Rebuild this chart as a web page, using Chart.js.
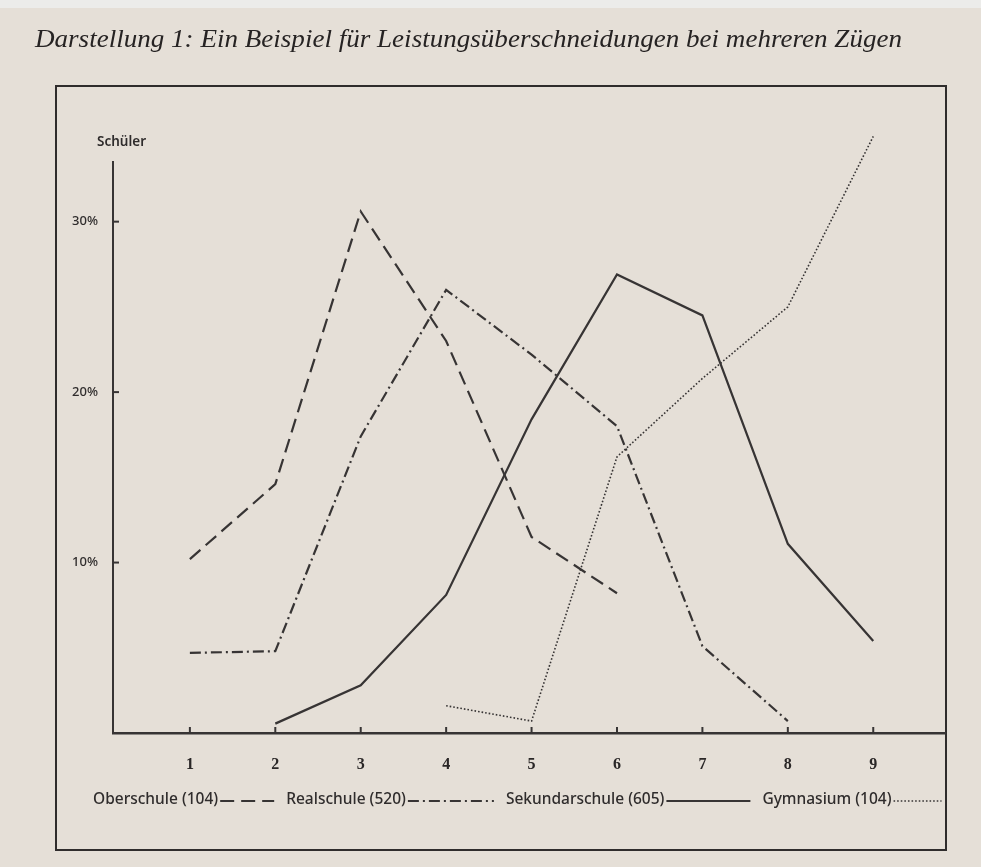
<!DOCTYPE html>
<html lang="de">
<head>
  <meta charset="UTF-8">
  <title>Darstellung 1</title>
  <script src="https://cdn.jsdelivr.net/npm/chart.js"></script>
  <style>
    html, body {
      margin: 0;
      padding: 0;
      background: linear-gradient(to bottom, #ececea 0, #ececea 8px, #e5dfd7 8px);
      overflow: hidden;
    }
    canvas {
      display: block;
    }
  </style>
</head>
<body>
  <canvas id="chart" width="981" height="867"></canvas>

  <script>
    const titleText = 'Darstellung 1: Ein Beispiel für Leistungsüberschneidungen bei mehreren Zügen';
    const yTitle = 'Schüler';
    const xTicks = [1, 2, 3, 4, 5, 6, 7, 8, 9];
    const yTicks = [10, 20, 30];

    const seriesNames = ['Oberschule (104)', 'Realschule (520)', 'Sekundarschule (605)', 'Gymnasium (104)'];

    const oberX = [1, 2, 3, 4, 5, 6];
    const oberY = [10.2, 14.6, 30.6, 23, 11.5, 8.2];

    const realX = [1, 2, 3, 4, 5, 6, 7, 8];
    const realY = [4.7, 4.8, 17.4, 26, 22.2, 18, 5.1, 0.7];

    const sekX = [2, 3, 4, 5, 6, 7, 8, 9];
    const sekY = [0.55, 2.8, 8.1, 18.4, 26.9, 24.5, 11.1, 5.4];

    const gymX = [4, 5, 6, 7, 8, 9];
    const gymY = [1.6, 0.7, 16.2, 20.8, 25, 35];

    const ink = '#373434';
    const dashes = [[14, 7], [11, 4, 2, 4], [], [1.6, 2]];
    const widths = [2.2, 2.2, 2.2, 1.6];
    const legendLine = [54, 86, 84, 48];

    const toPoints = (xs, ys) => xs.map((x, i) => ({ x: x, y: ys[i] }));
    const allData = [toPoints(oberX, oberY), toPoints(realX, realY), toPoints(sekX, sekY), toPoints(gymX, gymY)];

    const decor = {
      id: 'decor',
      beforeDraw(chart) {
        const ctx = chart.ctx;
        ctx.save();
        // frame
        ctx.strokeStyle = '#2f2c2c';
        ctx.lineWidth = 2;
        ctx.strokeRect(56, 86, 890, 764);
        // title, squeezed to the printed width
        ctx.fillStyle = '#262323';
        ctx.font = 'italic 26px "Liberation Serif", serif';
        ctx.textBaseline = 'alphabetic';
        const w = ctx.measureText(titleText).width;
        ctx.translate(35, 47);
        ctx.scale(867 / w, 1);
        ctx.fillText(titleText, 0, 0);
        ctx.restore();

        ctx.save();
        ctx.fillStyle = '#2f2c2c';
        ctx.font = '600 13.5px "Noto Sans", sans-serif';
        ctx.textBaseline = 'middle';
        ctx.fillText(yTitle, 97, 142);
        ctx.restore();
      },
      afterDraw(chart) {
        const ctx = chart.ctx;
        const xs = chart.scales.x, ys = chart.scales.y;
        const area = chart.chartArea;
        ctx.save();
        ctx.strokeStyle = ink;
        ctx.lineWidth = 2;
        // inward tick marks
        yTicks.forEach(v => {
          const py = ys.getPixelForValue(v);
          ctx.beginPath();
          ctx.moveTo(area.left, py);
          ctx.lineTo(area.left + 6, py);
          ctx.stroke();
        });
        xTicks.forEach(v => {
          const px = xs.getPixelForValue(v);
          ctx.beginPath();
          ctx.moveTo(px, area.bottom);
          ctx.lineTo(px, area.bottom - 6);
          ctx.stroke();
        });

        // legend: text followed by line sample
        ctx.font = '500 15.5px "Noto Sans", sans-serif';
        ctx.fillStyle = '#2f2c2c';
        ctx.textBaseline = 'middle';
        let x = 93;
        const y = 800;
        chart.data.datasets.forEach((ds, i) => {
          ctx.fillText(ds.label, x, y);
          x += ctx.measureText(ds.label).width + 2;
          ctx.beginPath();
          ctx.setLineDash(dashes[i]);
          ctx.lineWidth = widths[i];
          ctx.moveTo(x, y + 1);
          ctx.lineTo(x + legendLine[i], y + 1);
          ctx.stroke();
          ctx.setLineDash([]);
          x += legendLine[i] + 12;
        });
        ctx.restore();
      }
    };

    const ctx = document.getElementById('chart').getContext('2d');
    new Chart(ctx, {
      type: 'line',
      data: {
        datasets: seriesNames.map((name, i) => ({
          label: name,
          data: allData[i],
          borderColor: ink,
          borderWidth: widths[i],
          borderDash: dashes[i],
          pointRadius: 0,
          tension: 0,
          fill: false,
          clip: false
        }))
      },
      options: {
        responsive: false,
        animation: false,
        layout: { padding: { left: 0, top: 162, right: 36, bottom: 0 } },
        plugins: {
          legend: { display: false },
          title: { display: false },
          tooltip: { enabled: false }
        },
        scales: {
          x: {
            type: 'linear',
            min: 0.1,
            max: 9.84,
            afterFit: s => { s.height = 134; },
            afterBuildTicks: s => { s.ticks = xTicks.map(v => ({ value: v })); },
            grid: { display: false, drawTicks: false },
            border: { display: true, color: ink, width: 2.5 },
            ticks: {
              padding: 22,
              color: '#2a2727',
              font: { family: '"Liberation Serif", serif', size: 16, weight: 'bold' }
            }
          },
          y: {
            type: 'linear',
            min: 0,
            max: 33.5,
            afterFit: s => { s.width = 113; },
            afterBuildTicks: s => { s.ticks = yTicks.map(v => ({ value: v })); },
            grid: { display: false, drawTicks: false },
            border: { display: true, color: ink, width: 2 },
            ticks: {
              padding: 15,
              color: '#2f2c2c',
              font: { family: '"Noto Sans", sans-serif', size: 13, weight: '500' },
              callback: v => v + '%'
            }
          }
        }
      },
      plugins: [decor]
    });
  </script>
</body>
</html>
